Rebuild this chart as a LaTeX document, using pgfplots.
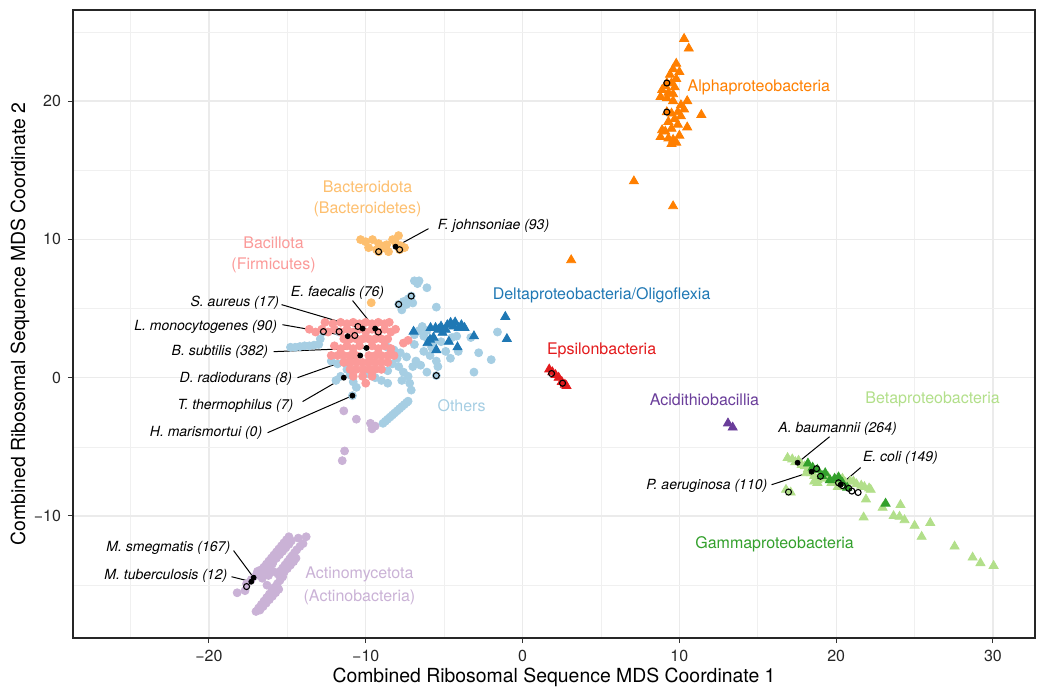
\documentclass[border=0pt]{standalone}
\usepackage{fontspec}
\setmainfont{TeX Gyre Heros}
\usepackage{pgfplots}
\pgfplotsset{compat=1.18}
\definecolor{cOth}{HTML}{A6CEE3}
\definecolor{cDel}{HTML}{1F78B4}
\definecolor{cBet}{HTML}{B2DF8A}
\definecolor{cGam}{HTML}{33A02C}
\definecolor{cBac}{HTML}{FB9A99}
\definecolor{cEps}{HTML}{E31A1C}
\definecolor{cBdt}{HTML}{FDBF6F}
\definecolor{cAlp}{HTML}{FF7F00}
\definecolor{cAct}{HTML}{CAB2D6}
\definecolor{cAci}{HTML}{6A3D9A}
\begin{document}
\begin{tikzpicture}
\useasboundingbox (-36.5pt,-24pt) rectangle (485pt,319pt);
\begin{axis}[
 at={(0,0)}, anchor=south west, scale only axis, width=481pt, height=314pt,
 xmin=-28.67, xmax=32.68, ymin=-18.82, ymax=26.58,
 xtick={-20,-10,0,10,20,30}, xticklabels={−20,−10,0,10,20,30},
 ytick={-10,0,10,20}, yticklabels={−10,0,10,20},
 minor xtick={-25,-15,-5,5,15,25}, minor ytick={-15,-5,5,15,25},
 grid=both,
 major grid style={line width=0.6pt, color=black!8},
 minor grid style={line width=0.3pt, color=black!6},
 tick align=outside, major tick length=2.5pt, minor tick length=0pt,
 tick style={black!80, line width=0.5pt},
 xtick pos=bottom, ytick pos=left,
 axis line style={black!85, line width=0.6pt},
 tick label style={font=\fontsize{8}{9}\selectfont, text=black!85},
 xlabel={Combined Ribosomal Sequence MDS Coordinate 1},
 ylabel={Combined Ribosomal Sequence MDS Coordinate 2},
 label style={font=\fontsize{9.7}{11}\selectfont},
 xlabel style={at={(axis description cs:0.5,-0.0621)}, anchor=center},
 ylabel style={at={(axis description cs:-0.0551,0.5)}, anchor=center},
 clip=false,
]
% Actinomycetota
\addplot[only marks, mark=*, mark size=2pt, color=cAct] coordinates {
(-16.5,-13.7)(-16.34,-13.48)(-16.18,-13.26)(-16.02,-13.04)(-15.86,-12.82)(-15.7,-12.6)(-15.54,-12.38)(-15.38,-12.16)(-15.22,-11.94)(-15.06,-11.72)(-14.9,-11.5)
(-16.3,-13.8)(-16.1,-13.55)(-15.9,-13.3)(-15.7,-13.05)(-15.5,-12.8)(-15.3,-12.55)(-15.1,-12.3)(-14.9,-12.05)(-14.75,-11.8)
(-16.7,-13.9)(-16.55,-14.0)(-16.2,-13.7)(-15.95,-13.45)
(-15.6,-14.2)(-15.45,-13.98)(-15.3,-13.76)(-15.15,-13.54)(-15.0,-13.32)(-14.85,-13.1)(-14.7,-12.88)(-14.55,-12.66)(-14.4,-12.44)(-14.2,-12.2)
(-15.4,-14.3)(-15.2,-14.05)(-15.0,-13.8)(-14.8,-13.55)(-14.6,-13.3)(-14.45,-13.05)
(-17.0,-16.9)(-16.83,-16.65)(-16.66,-16.4)(-16.49,-16.15)(-16.32,-15.9)(-16.15,-15.65)(-15.98,-15.4)(-15.81,-15.15)(-15.64,-14.9)(-15.47,-14.65)(-15.3,-14.4)
(-16.75,-16.8)(-16.55,-16.55)(-16.35,-16.3)(-16.15,-16.05)(-15.95,-15.8)(-15.75,-15.55)(-15.55,-15.3)
(-17.6,-14.9)(-17.3,-14.6)(-17.0,-14.3)(-16.7,-14.1)(-16.6,-14.5)(-16.9,-14.0)(-18.2,-15.55)(-17.7,-15.4)(-16.3,-15.0)(-13.8,-11.5)(-14.3,-11.6)(-14.0,-12.0)(-15.9,-14.0)(-16.2,-14.3)
(-11.4,-2.4)(-10.6,-3.0)(-9.7,-3.3)(-9.4,-3.5)(-9.6,-3.7)(-11.35,-5.3)(-11.5,-6.0)
};
% Others
\addplot[only marks, mark=*, mark size=2pt, color=cOth] coordinates {
(-14.8,2.2)(-14.5,2.2)(-14.2,2.25)(-13.9,2.3)(-13.6,2.3)(-13.3,2.35)(-13.0,2.4)(-12.9,2.8)(-12.7,3.3)(-11.7,3.3)
(-12.2,1.2)(-11.8,1.0)(-11.4,1.1)(-11.2,0.6)(-11.0,0.2)(-11.6,0.1)(-11.9,-0.2)(-10.8,-0.3)(-10.6,-0.7)(-10.85,-1.3)
(-9.9,0.3)(-9.4,0.0)(-9.0,-0.2)(-8.6,-0.4)(-8.6,0.5)(-8.3,1.0)(-8.0,1.4)(-8.6,2.2)(-8.2,2.0)(-7.8,1.8)(-7.4,1.5)
(-7.0,0.8)(-7.3,0.1)(-7.2,-0.4)(-7.1,-0.9)(-7.6,0.4)(-7.9,0.8)(-6.9,2.4)(-6.9,3.1)(-6.6,3.4)(-6.3,3.0)(-6.0,2.7)
(-5.7,2.5)(-6.3,1.9)(-5.9,1.6)(-5.5,1.2)(-5.4,0.8)(-6.1,0.4)(-5.5,0.15)(-4.9,1.9)(-4.6,1.4)(-4.1,1.9)(-3.3,2.9)
(-2.8,1.8)(-2.0,1.3)(-3.1,0.4)(-1.6,3.3)(-6.8,1.2)(-6.5,0.9)(-7.7,-0.2)
(-6.4,3.7)(-6.1,3.4)(-5.8,2.2)(-5.2,2.6)(-4.5,2.9)(-4.2,3.0)
(-6.9,7.0)(-6.7,6.8)(-6.6,7.0)(-6.1,6.5)(-5.5,5.1)(-7.9,5.3)(-7.6,5.5)(-7.3,5.7)(-7.1,5.9)(-7.4,5.3)(-7.0,5.4)(-7.7,4.9)
(-8.9,-3.3)(-8.75,-3.15)(-8.6,-3.0)(-8.45,-2.85)(-8.3,-2.7)(-8.15,-2.55)(-8.0,-2.4)(-7.85,-2.25)(-7.7,-2.1)(-7.55,-1.95)(-7.4,-1.8)(-7.3,-1.7)
};
% Bacillota
\addplot[only marks, mark=*, mark size=2pt, color=cBac] coordinates {
(-12.6,4.0)(-12.1,3.9)(-11.6,4.0)(-11.2,3.9)(-10.8,4.0)(-10.4,3.9)(-10.0,4.0)(-9.6,3.9)(-9.2,4.0)(-8.8,3.9)(-8.5,4.0)
(-13.6,3.5)(-13.2,3.3)(-12.8,3.5)(-12.4,3.3)(-12.0,3.5)(-11.6,3.3)(-11.2,3.5)(-10.8,3.3)(-10.4,3.5)(-10.0,3.3)(-9.6,3.5)(-9.2,3.3)(-8.8,3.5)(-8.4,3.3)(-8.1,3.5)
(-11.4,2.8)(-11.0,2.8)(-10.6,2.8)(-10.2,2.8)(-9.8,2.8)(-9.4,2.8)(-9.0,2.8)(-8.6,2.8)
(-12.0,2.3)(-11.6,2.1)(-11.2,2.3)(-10.8,2.1)(-10.4,2.3)(-9.6,2.3)(-9.2,2.1)(-8.8,2.3)(-8.4,2.1)(-7.6,2.5)(-7.3,2.7)
(-12.2,1.6)(-11.8,1.6)(-11.4,1.6)(-11.0,1.6)(-10.6,1.6)(-9.8,1.6)(-9.4,1.6)(-9.0,1.6)(-8.6,1.6)(-8.2,1.6)
(-11.4,1.1)(-11.0,1.1)(-10.6,1.1)(-10.2,1.1)(-9.8,1.1)(-9.4,1.1)(-9.0,1.1)(-8.6,1.1)
(-11.0,0.6)(-10.6,0.6)(-10.2,0.6)(-9.8,0.6)(-9.4,0.6)(-9.0,0.6)
(-10.8,0.1)(-10.2,0.1)(-9.6,0.1)(-10.0,-0.4)
};
% Bacteroidota
\addplot[only marks, mark=*, mark size=2pt, color=cBdt] coordinates {
(-10.33,9.98)(-10.01,9.83)(-9.57,9.98)(-9.18,9.69)(-8.86,9.40)(-8.55,9.11)(-8.10,9.76)(-7.78,9.54)(-7.53,9.40)(-7.91,10.27)(-8.29,9.98)(-9.82,9.40)(-9.31,9.25)(-9.06,9.54)(-8.67,9.61)(-9.18,9.11)(-7.84,9.25)(-9.65,5.42)
};
% Alphaproteobacteria
\addplot[only marks, mark=triangle*, mark size=2.6pt, color=cAlp] coordinates {
(10.3,24.5)(10.6,23.8)(9.8,22.7)(9.6,22.3)(10.0,22.1)(9.4,21.9)(9.8,21.6)(9.5,21.3)(9.1,21.1)(9.7,21.0)(8.9,20.8)(9.3,20.6)(9.6,20.5)(8.8,20.3)(9.2,20.2)(9.6,20.0)(10.5,20.0)(10.1,19.7)(10.3,19.4)(9.9,19.2)(9.5,19.1)(10.1,18.9)(9.7,18.7)(9.3,18.5)(9.9,18.3)(10.5,18.1)(9.5,18.0)(9.1,17.8)(8.8,17.4)(9.3,17.3)(9.6,17.2)(10.0,17.5)(9.5,16.9)(9.8,17.0)(8.9,17.9)(9.2,21.3)(9.2,19.2)(11.4,19.0)(7.1,14.2)(9.6,12.4)(3.1,8.5)
};
% Deltaproteobacteria
\addplot[only marks, mark=triangle*, mark size=2.6pt, color=cDel] coordinates {
(-6.95,3.33)(-5.87,3.6)(-5.55,3.6)(-5.36,3.47)(-4.59,3.97)(-4.4,3.7)(-4.08,3.6)(-4.9,3.47)(-5.1,3.25)(-5.68,2.9)(-6.06,2.5)(-5.5,2.0)(-4.7,2.6)(-4.15,2.2)(-3.1,3.0)(-1.1,4.4)(-1.0,2.8)(-5.9,2.75)(-4.3,4.0)(-3.9,3.8)(-3.7,3.6)(-4.8,3.8)(-5.2,3.7)
};
% Epsilonbacteria
\addplot[only marks, mark=triangle*, mark size=2.6pt, color=cEps] coordinates {
(1.7,0.6)(1.9,0.4)(2.1,0.2)(2.3,0.0)(2.5,-0.3)(2.7,-0.5)(2.8,-0.6)
};
% Acidithiobacillia
\addplot[only marks, mark=triangle*, mark size=2.6pt, color=cAci] coordinates {
(13.1,-3.3)(13.4,-3.6)
};
% Betaproteobacteria
\addplot[only marks, mark=triangle*, mark size=2.6pt, color=cBet] coordinates {
(16.9,-5.8)(17.2,-5.9)(17.4,-6.1)(17.6,-6.0)(17.8,-6.3)(18.0,-6.4)(18.2,-6.6)(18.1,-6.9)(18.4,-6.9)(18.6,-7.1)(18.8,-7.4)(19.0,-7.0)(19.3,-7.3)(19.5,-7.2)(19.7,-7.6)(19.9,-7.5)(20.1,-7.9)(20.4,-7.3)(20.6,-7.6)(20.9,-7.5)(21.1,-7.5)(21.3,-7.7)(21.6,-7.8)(21.8,-7.9)(22.1,-8.0)(22.2,-8.1)(16.8,-8.1)(17.1,-8.3)(18.6,-7.5)(18.8,-7.6)
(21.9,-8.8)(21.75,-10.1)(22.96,-9.4)(24.1,-9.2)(23.66,-10.0)(24.04,-10.05)(24.36,-10.3)(25.0,-10.7)(26.0,-10.5)(25.45,-11.5)(27.55,-12.2)(28.7,-13.0)(29.2,-13.4)(30.04,-13.6)
};
% Gammaproteobacteria
\addplot[only marks, mark=triangle*, mark size=2.6pt, color=cGam] coordinates {
(18.2,-6.2)(18.5,-6.5)(18.8,-6.65)(19.1,-7.1)(19.6,-7.4)(20.15,-7.2)(20.4,-7.6)(20.7,-7.95)(23.15,-9.1)(19.3,-6.9)(19.9,-7.3)
};
% leader lines
\draw[black, line width=0.5pt] (-6.0,10.77) -- (-8.1,9.47);
\draw[black, line width=0.5pt] (-10.84,5.57) -- (-9.4,3.55);
\draw[black, line width=0.5pt] (-15.37,5.28) -- (-10.2,3.55);
\draw[black, line width=0.5pt] (-15.31,3.83) -- (-11.15,3.0);
\draw[black, line width=0.5pt] (-15.88,1.88) -- (-9.95,2.15);
\draw[black, line width=0.5pt] (-14.35,0.0) -- (-10.35,1.6);
\draw[black, line width=0.5pt] (-14.03,-1.73) -- (-11.4,0.0);
\draw[black, line width=0.5pt] (-16.26,-3.98) -- (-10.85,-1.3);
\draw[black, line width=0.5pt] (19.58,-4.27) -- (17.54,-6.15);
\draw[black, line width=0.5pt] (21.56,-6.5) -- (20.28,-7.74);
\draw[black, line width=0.5pt] (15.88,-7.74) -- (18.43,-6.8);
\draw[black, line width=0.5pt] (-18.43,-12.5) -- (-17.15,-14.46);
\draw[black, line width=0.5pt] (-18.56,-14.39) -- (-17.3,-14.75);
% open circles
\addplot[only marks, mark=o, mark size=1.5pt, black, mark options={line width=0.55pt}] coordinates {
(9.2,21.3)(9.2,19.2)(-9.18,9.11)(-7.84,9.25)(-12.7,3.33)(-11.7,3.33)(-10.7,3.05)(-10.5,3.7)(-9.2,3.3)(-7.9,5.3)(-7.1,5.9)(-5.5,0.15)(1.85,0.3)(2.55,-0.4)(18.75,-6.58)(19.0,-7.13)(20.15,-7.6)(20.4,-7.8)(20.8,-8.0)(21.0,-8.2)(21.4,-8.3)(16.96,-8.27)(-17.6,-15.1)
};
% filled reference organisms
\addplot[only marks, mark=*, mark size=1.25pt, black] coordinates {
(-8.1,9.47)(-10.2,3.55)(-11.15,3.0)(-9.4,3.55)(-9.95,2.15)(-10.35,1.6)(-11.4,0.0)(-10.85,-1.3)(17.54,-6.15)(18.43,-6.8)(20.28,-7.74)(-17.15,-14.46)(-17.3,-14.75)
};
% group labels
\begin{scope}[every node/.style={font=\fontsize{8}{9}\selectfont, inner sep=0pt}]
\node[text=cAlp] at (15.07,20.96) {Alphaproteobacteria};
\node[text=cBdt] at (-9.89,13.8) {Bacteroidota};
\node[text=cBdt] at (-9.89,12.15) {(Bacteroidetes)};
\node[text=cBac] at (-15.88,9.76) {Bacillota};
\node[text=cBac] at (-15.88,8.1) {(Firmicutes)};
\node[text=cDel] at (5.04,5.93) {Deltaproteobacteria/Oligoflexia};
\node[text=cEps] at (5.04,1.95) {Epsilonbacteria};
\node[text=cOth] at (-3.89,-2.02) {Others};
\node[text=cAci] at (11.6,-1.6) {Acidithiobacillia};
\node[text=cBet] at (26.15,-1.6) {Betaproteobacteria};
\node[text=cGam] at (16.07,-12.07) {Gammaproteobacteria};
\node[text=cAct] at (-10.4,-14.24) {Actinomycetota};
\node[text=cAct] at (-10.4,-15.9) {(Actinobacteria)};
\end{scope}
% species labels
\begin{scope}[every node/.style={font=\fontsize{7}{8}\selectfont\itshape, inner sep=0pt}]
\node[anchor=west] at (-5.42,10.99) {F. johnsoniae (93)};
\node at (-11.8,6.14) {E. faecalis (76)};
\node[anchor=east] at (-15.5,5.42) {S. aureus (17)};
\node[anchor=east] at (-15.63,3.69) {L. monocytogenes (90)};
\node[anchor=east] at (-16.2,1.88) {B. subtilis (382)};
\node[anchor=east] at (-14.67,-0.07) {D. radiodurans (8)};
\node[anchor=east] at (-14.6,-2.02) {T. thermophilus (7)};
\node[anchor=east] at (-16.58,-3.98) {H. marismortui (0)};
\node at (20.09,-3.69) {A. baumannii (264)};
\node at (24.1,-5.78) {E. coli (149)};
\node[anchor=east] at (15.63,-7.8) {P. aeruginosa (110)};
\node[anchor=east] at (-18.62,-12.29) {M. smegmatis (167)};
\node[anchor=east] at (-18.81,-14.31) {M. tuberculosis (12)};
\end{scope}
\end{axis}
\end{tikzpicture}
\end{document}
